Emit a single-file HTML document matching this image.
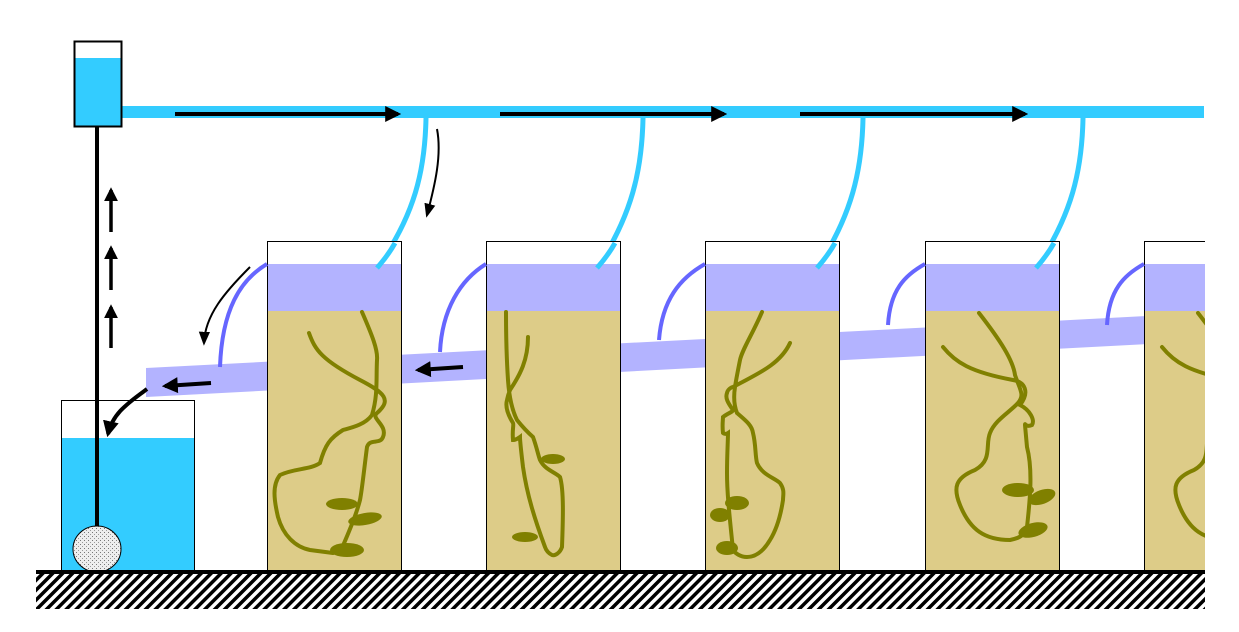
<!DOCTYPE html>
<html><head><meta charset="utf-8"><style>html,body{margin:0;padding:0;background:#fff}svg{display:block}</style></head>
<body>
<svg width="1239" height="632" viewBox="0 0 1239 632" xmlns="http://www.w3.org/2000/svg">
<defs>
<pattern id="hatch" width="7" height="7" patternUnits="userSpaceOnUse" patternTransform="rotate(45)">
<rect width="7" height="7" fill="#fff"/><rect width="3.5" height="7" fill="#000"/>
</pattern>
<pattern id="dots" width="4" height="4" patternUnits="userSpaceOnUse">
<rect width="4" height="4" fill="#eee"/><rect x="0" y="0" width="1" height="1" fill="#777"/><rect x="2" y="2" width="1" height="1" fill="#999"/>
</pattern>
<marker id="ah" viewBox="0 0 10 10" refX="8" refY="5" markerWidth="4" markerHeight="4" orient="auto"><path d="M0,0L10,5L0,10z" fill="#000"/></marker>
<marker id="ahs" viewBox="0 0 10 10" refX="8" refY="5" markerWidth="7" markerHeight="7" orient="auto"><path d="M0,1L10,5L0,9z" fill="#000"/></marker>
<g id="roots4" fill="none" stroke="#808000" stroke-width="4" stroke-linecap="round">
<path d="M54,313 C75,340 88,360 90,375 C95,390 100,395 93,403 C85,412 70,420 65,433 C60,445 68,460 50,470 C30,478 28,488 35,505 C45,530 60,540 85,540 C95,538 98,535 98,533"/>
<path d="M18,347 C30,362 45,372 88,380 C100,382 105,392 95,405 C105,410 110,420 107,425 C100,428 100,422 100,425 L102,447 C108,470 105,500 102,527"/>
<ellipse cx="93" cy="490" rx="16" ry="7" fill="#808000" stroke="none"/>
<ellipse cx="117" cy="497" rx="14" ry="7" fill="#808000" stroke="none" transform="rotate(-20 117 497)"/>
<ellipse cx="108" cy="530" rx="15" ry="7" fill="#808000" stroke="none" transform="rotate(-15 108 530)"/>
</g>
</defs>

<polygon points="146,368 1205,313 1205,341 146,397" fill="#b3b3ff"/>

<rect x="121" y="106" width="1083" height="12" fill="#33ccff"/>
<line x1="175" y1="114" x2="398" y2="114" stroke="#000" stroke-width="4" marker-end="url(#ah)"/>
<line x1="500" y1="114" x2="724" y2="114" stroke="#000" stroke-width="4" marker-end="url(#ah)"/>
<line x1="800" y1="114" x2="1025" y2="114" stroke="#000" stroke-width="4" marker-end="url(#ah)"/>

<g fill="none" stroke="#33ccff" stroke-width="5">
<path d="M426,118 C425,170 415,215 377,268"/>
<path d="M643,118 C642,170 632,215 597,268"/>
<path d="M863,118 C862,170 852,215 817,268"/>
<path d="M1083,118 C1082,170 1072,215 1036,268"/>
</g>

<g>
<rect x="267.5" y="241.5" width="134" height="330" fill="#fff" stroke="#000"/>
<rect x="268" y="264" width="133" height="47" fill="#b3b3ff"/>
<rect x="268" y="311" width="133" height="260" fill="#ddcc88"/>
<rect x="486.5" y="241.5" width="134" height="330" fill="#fff" stroke="#000"/>
<rect x="487" y="264" width="133" height="47" fill="#b3b3ff"/>
<rect x="487" y="311" width="133" height="260" fill="#ddcc88"/>
<rect x="705.5" y="241.5" width="134" height="330" fill="#fff" stroke="#000"/>
<rect x="706" y="264" width="133" height="47" fill="#b3b3ff"/>
<rect x="706" y="311" width="133" height="260" fill="#ddcc88"/>
<rect x="925.5" y="241.5" width="134" height="330" fill="#fff" stroke="#000"/>
<rect x="926" y="264" width="133" height="47" fill="#b3b3ff"/>
<rect x="926" y="311" width="133" height="260" fill="#ddcc88"/>
<rect x="1144" y="241" width="61" height="330" fill="#fff"/>
<path d="M1205,241.5 H1144.5 V571" fill="none" stroke="#000"/>
<rect x="1145" y="264" width="60" height="47" fill="#b3b3ff"/>
<rect x="1145" y="311" width="60" height="260" fill="#ddcc88"/>
</g>
<g fill="none" stroke="#33ccff" stroke-width="5">
<path d="M395,243 C390,252 384,260 377,268"/>
<path d="M615,243 C610,252 604,260 597,268"/>
<path d="M835,243 C830,252 824,260 817,268"/>
<path d="M1054,243 C1049,252 1043,260 1036,268"/>
</g>

<g fill="none" stroke="#6666ff" stroke-width="4">
<path d="M267,264 C240,280 222,310 220,367"/>
<path d="M486,264 C460,280 442,310 440,352"/>
<path d="M705,264 C680,278 662,300 659,340"/>
<path d="M925,264 C905,275 890,290 888,325"/>
<path d="M1144,264 C1124,275 1109,290 1107,325"/>
</g>

<g fill="none" stroke="#808000" stroke-width="4" stroke-linecap="round">
<path d="M362,312 C372,335 378,350 377,360 C376,380 378,395 372,415 C365,425 350,428 343,430 C330,438 325,445 320,463 C310,470 295,468 280,475 C272,485 274,500 278,517 C283,535 295,547 310,550 L333,553"/>
<path d="M309,333 C315,350 322,360 360,380 C385,393 392,400 377,413 C370,418 388,425 383,437 C380,445 370,438 367,447 C364,470 362,490 360,500 C355,520 345,540 340,553"/>
<ellipse cx="342" cy="504" rx="16" ry="6" fill="#808000" stroke="none"/>
<ellipse cx="365" cy="519" rx="17" ry="6" fill="#808000" stroke="none" transform="rotate(-10 365 519)"/>
<ellipse cx="347" cy="550" rx="17" ry="7" fill="#808000" stroke="none"/>
</g>
<g fill="none" stroke="#808000" stroke-width="4" stroke-linecap="round">
<path d="M506,312 C506,340 507,365 508,380 C509,395 512,410 517,420 C525,430 533,437 533,437 C537,448 538,455 540,460 C545,470 555,472 560,477 C564,490 563,520 562,547 C560,553 555,556 552,555 C548,553 546,550 545,547 C535,520 527,495 523,467 C521,450 520,442 520,437 C516,440 513,440 513,440 C512,430 514,425 513,423 C508,415 505,407 507,400 C508,395 510,390 510,390 C520,375 528,360 528,337"/>
<ellipse cx="553" cy="459" rx="12" ry="5" fill="#808000" stroke="none"/>
<ellipse cx="525" cy="537" rx="13" ry="5" fill="#808000" stroke="none"/>
</g>
<g fill="none" stroke="#808000" stroke-width="4" stroke-linecap="round">
<path d="M762,312 C752,335 742,350 740,360 C737,375 736,380 735,387 C733,400 735,408 737,413 C745,420 752,425 753,433 C756,445 755,455 757,463 C762,475 775,478 780,483 C785,490 783,495 783,500 C780,520 775,532 770,540 C763,552 755,557 747,557 C740,557 735,553 733,550 C730,520 727,495 727,473 C727,455 728,440 728,433 C725,435 723,433 723,433 C722,425 723,420 723,417 C728,413 733,412 733,410 C728,403 725,398 727,393 C728,388 733,387 733,387 C755,375 780,365 790,343"/>
<ellipse cx="737" cy="503" rx="12" ry="7" fill="#808000" stroke="none"/>
<ellipse cx="720" cy="515" rx="10" ry="7" fill="#808000" stroke="none"/>
<ellipse cx="727" cy="548" rx="11" ry="7" fill="#808000" stroke="none"/>
</g>
<use href="#roots4" x="925" y="0"/>
<svg x="1145" y="300" width="60" height="271" viewBox="1145 300 60 271" overflow="hidden"><use href="#roots4" x="1144" y="0"/></svg>

<rect x="74.5" y="41.5" width="47" height="85" fill="#fff" stroke="#000" stroke-width="2"/>
<rect x="75.5" y="58" width="45" height="67.5" fill="#33ccff"/>
<rect x="74.5" y="41.5" width="47" height="85" fill="none" stroke="#000" stroke-width="2"/>

<rect x="61.5" y="400.5" width="133" height="171" fill="#fff" stroke="#000"/>
<rect x="62" y="438" width="132" height="133" fill="#33ccff"/>

<line x1="97" y1="127" x2="97" y2="530" stroke="#000" stroke-width="4"/>
<ellipse cx="97" cy="549" rx="24" ry="23" fill="url(#dots)" stroke="#000" stroke-width="1"/>

<g stroke="#000" stroke-width="3.5">
<line x1="111" y1="348" x2="111" y2="307" marker-end="url(#ah)"/>
<line x1="111" y1="290" x2="111" y2="248" marker-end="url(#ah)"/>
<line x1="111" y1="232" x2="111" y2="190" marker-end="url(#ah)"/>
</g>

<g stroke="#000" stroke-width="4" fill="none">
<line x1="211" y1="383" x2="165" y2="386" marker-end="url(#ah)"/>
<line x1="463" y1="367" x2="418" y2="370" marker-end="url(#ah)"/>
<path d="M147,389 C130,402 113,412 108,434" marker-end="url(#ah)"/>
</g>
<g stroke="#000" stroke-width="2" fill="none">
<path d="M437,129 C442,155 435,185 427,215" marker-end="url(#ahs)"/>
<path d="M250,267 C225,292 205,315 204,343" marker-end="url(#ahs)"/>
</g>

<rect x="36" y="574" width="1169" height="35" fill="url(#hatch)"/>
<rect x="36" y="570" width="1169" height="4" fill="#000"/>
</svg>
</body></html>
